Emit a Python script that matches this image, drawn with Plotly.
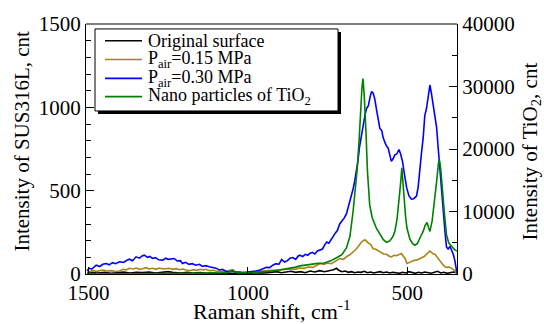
import plotly.graph_objects as go

# ---------------- data ----------------
blue_x = [1505, 1497, 1490, 1476, 1465, 1455, 1445, 1435, 1425, 1415, 1403, 1390, 1380, 1372, 1362,
          1351, 1340, 1332, 1325, 1315, 1308, 1299, 1290, 1280, 1267, 1258, 1250, 1240, 1231, 1222,
          1212, 1205, 1195, 1185, 1175, 1163, 1152, 1143, 1133, 1121, 1112, 1100, 1090, 1080, 1070,
          1059, 1048, 1038, 1028, 1015, 1005, 995, 985, 975, 962, 952, 942, 932, 922, 912, 903, 894,
          885, 876, 868, 859, 850, 842, 837, 828, 820, 812, 806, 798, 790, 782, 774, 766, 759, 753,
          746, 740, 733, 726, 719, 712, 705, 698, 691, 685, 680, 675, 670, 665, 660, 655, 650, 644,
          638, 633, 628, 622, 617, 612, 607, 602, 596, 591, 586, 580, 576, 571, 566, 560, 555, 550,
          545, 539, 533, 526, 521, 515, 509, 502, 495, 487, 480, 471, 466, 461, 456, 450, 445, 440,
          435, 429, 424, 419, 414, 408, 404, 400, 394, 388, 382, 377, 372, 366, 361, 356, 351, 347, 344]
blue_y = [20, 34, 30, 53, 45, 58, 63, 55, 68, 62, 73, 70, 82, 89, 80,
          103, 95, 108, 113, 100, 105, 93, 98, 85, 83, 95, 88, 92, 93, 78,
          80, 63, 70, 58, 62, 53, 58, 45, 50, 43, 38, 35, 24, 28, 18,
          14, 16, 10, 12, 8, 10, 12, 14, 18, 24, 32, 40, 38, 53, 62, 58, 87,
          72, 80, 95, 99, 88, 108, 113, 105, 118, 112, 123, 130, 120, 138, 142, 150, 175, 192,
          185, 205, 221, 245, 262, 300, 318, 335, 360, 400, 440, 468, 510, 557, 610, 676, 760, 834,
          900, 950, 992, 1010, 1060, 1095, 1085, 1051, 980, 930, 873, 860, 820, 794, 770, 755, 710, 676,
          690, 715, 720, 747, 720, 676, 600, 518, 470, 449, 452, 468, 520, 600, 715, 820, 952, 990,
          1060, 1134, 1080, 1010, 972, 880, 780, 676, 520, 360, 260, 162, 150, 165, 142, 120, 83, 30, 4]

gold_x = [1505, 1497, 1485, 1475, 1465, 1455, 1440, 1428, 1415, 1403, 1392, 1382, 1372, 1360, 1350,
          1340, 1330, 1320, 1310, 1299, 1288, 1278, 1265, 1255, 1247, 1235, 1225, 1215, 1204, 1194,
          1182, 1172, 1160, 1150, 1140, 1132, 1120, 1108, 1095, 1082, 1069, 1058, 1048, 1038, 1025,
          1012, 1000, 985, 970, 955, 940, 925, 910, 895, 880, 866, 852, 838, 824, 810, 796, 782, 774,
          762, 750, 738, 726, 712, 700, 690, 680, 670, 660, 652, 644, 638, 633, 628, 622, 615, 607,
          600, 592, 581, 574, 565, 558, 550, 542, 534, 526, 518, 512, 506, 501, 494, 487, 478, 471,
          463, 455, 447, 440, 434, 429, 424, 418, 413, 408, 402, 396, 390, 382, 375, 368, 361, 355,
          350, 347, 344]
gold_y = [10, 14, 20, 16, 22, 24, 18, 20, 15, 18, 28, 24, 34, 30, 36,
          28, 32, 38, 30, 34, 28, 36, 30, 32, 34, 28, 32, 26, 30, 24,
          20, 26, 22, 28, 24, 28, 20, 22, 15, 18, 14, 22, 25, 12, 10,
          8, 10, 14, 16, 20, 18, 24, 22, 28, 26, 30, 28, 36, 34, 42, 40, 52, 63,
          58, 66, 62, 74, 93, 88, 105, 115, 132, 150, 170, 192, 200, 205, 197, 185, 178, 152,
          150, 140, 126, 120, 118, 108, 103, 112, 110, 118, 123, 105, 90, 63, 70, 75, 82, 83,
          90, 100, 105, 118, 128, 138, 130, 120, 118, 103, 92, 75, 60, 43, 40, 42, 34, 28,
          20, 8, 2]

black_x = [1505, 1490, 1470, 1450, 1430, 1410, 1390, 1370, 1350, 1330, 1310, 1290, 1270, 1250, 1230,
           1210, 1190, 1170, 1150, 1130, 1110, 1090, 1070, 1050, 1030, 1010, 990, 970, 950, 930, 910,
           895, 880, 865, 850, 835, 820, 805, 790, 775, 760, 745, 735, 728, 722, 715, 705, 695, 685,
           675, 665, 655, 645, 635, 625, 615, 605, 595, 585, 575, 565, 555, 545, 535, 525, 515, 505,
           495, 485, 475, 465, 455, 445, 435, 425, 415, 405, 395, 385, 375, 365, 355, 348, 344]
black_y = [5, 8, 6, 10, 4, 8, 12, 6, 10, 8, 12, 6, 10, 14, 8,
           6, 10, 5, 8, 4, 6, 3, 5, 2, 4, 3, 5, 8, 6, 10, 14,
           8, 12, 16, 10, 14, 8, 18, 12, 20, 14, 18, 24, 28, 34, 22, 14, 18, 10,
           14, 8, 12, 10, 16, 8, 12, 6, 10, 14, 8, 12, 6, 10, 8, 4, 10, 6,
           14, 8, 4, 10, 6, 12, 8, 5, 10, 16, 6, 10, 4, 8, 12, 10, 2]

green_x = [1505, 1480, 1450, 1420, 1390, 1360, 1330, 1300, 1270, 1240, 1210, 1180, 1150, 1120, 1090,
           1065, 1055, 1048, 1042, 1030, 1000, 970, 940, 910, 880, 850, 837, 820, 800, 780, 760, 740,
           722, 705, 691, 680, 670, 663, 657, 651, 646, 642, 639, 635, 630, 625, 618, 610, 597, 585,
           575, 565, 555, 545, 539, 532, 526, 521, 517, 513, 509, 505, 501, 492, 484, 476, 468, 460,
           450, 444, 438, 433, 429, 422, 414, 407, 402, 399, 395, 389, 384, 377, 370, 361, 352, 344]
green_y = [0, 20, 40, 30, 50, 40, 60, 50, 70, 60, 80, 90, 100, 120, 150,
           200, 400, 600, 300, 180, 200, 280, 400, 560, 800, 1100, 1300, 1450, 1600, 1700, 1750, 2100,
           2590, 3100, 4180, 6000, 10000, 13500, 16870, 21500, 27450, 30000, 31260, 28500, 23220, 16500, 11060, 9000, 7350, 6200,
           5500, 5080, 5300, 6000, 6820, 8800, 11590, 14500, 16980, 14800, 11590, 9000, 7350, 5600, 4900, 4600, 4900, 5800,
           6820, 7800, 8250, 7400, 6820, 8500, 11590, 15200, 17800, 18200, 16800, 13700, 10000, 6300, 5000, 4440, 3900, 3650]

legend_names = ["Original surface", "P<sub>air</sub>=0.15 MPa", "P<sub>air</sub>=0.30 MPa",
                "Nano particles of TiO<sub>2</sub>"]
colors = ["#000000", "#A88418", "#0000FF", "#008000"]

x_ticks = [1500, 1000, 500]
y1_ticks = [0, 500, 1000, 1500]
y2_ticks = [0, 10000, 20000, 30000, 40000]

# ---------------- figure ----------------
FONT = "Liberation Serif"
fig = go.Figure()
series = [(black_x, black_y, "y"), (gold_x, gold_y, "y"), (blue_x, blue_y, "y"), (green_x, green_y, "y2")]
for (xs, ys, ax), name, col in zip(series, legend_names, colors):
    fig.add_trace(go.Scatter(x=xs, y=ys, yaxis=ax, mode="lines", name=name,
                             line=dict(color=col, width=1.6), showlegend=False))

W, H = 544, 324
L, R, T, B = 86, 87, 21, 50
pw, ph = W - L - R, H - T - B

def px(x):
    return (x - L) / pw

def py(y):
    return (H - B - y) / ph

axis_common = dict(showline=True, linecolor="black", linewidth=1, showgrid=False, zeroline=False,
                   tickcolor="black", tickformat="d", ticks="inside",
                   tickfont=dict(family=FONT, size=21, color="black"))

fig.update_layout(
    width=W, height=H,
    margin=dict(l=L, r=R, t=T, b=B),
    paper_bgcolor="white", plot_bgcolor="white",
    font=dict(family=FONT, size=21, color="black"),
    xaxis=dict(range=[1508, 344], tickvals=x_ticks, ticklen=7, **axis_common),
    yaxis=dict(range=[0, 1500], tickvals=y1_ticks, ticklen=8,
               minor=dict(dtick=100, ticks="inside", ticklen=5, tickcolor="black"), **axis_common),
    yaxis2=dict(range=[0, 40000], tickvals=y2_ticks, overlaying="y", side="right", ticklen=8,
                minor=dict(dtick=5000, ticks="inside", ticklen=5, tickcolor="black"), **axis_common),
    showlegend=False,
)

shapes = [
    dict(type="line", xref="paper", yref="paper", x0=0, x1=1, y0=1, y1=1,
         line=dict(color="black", width=1)),
    dict(type="rect", xref="paper", yref="paper", x0=px(98), x1=px(341), y0=py(112), y1=py(29),
         fillcolor="black", line=dict(width=0)),
    dict(type="rect", xref="paper", yref="paper", x0=px(95), x1=px(338), y0=py(109), y1=py(26),
         fillcolor="white", line=dict(color="black", width=1)),
]
annotations = []
rows = [38, 57, 76, 94.5]
for name, col, ry in zip(legend_names, colors, rows):
    shapes.append(dict(type="line", xref="paper", yref="paper", x0=px(105), x1=px(142),
                       y0=py(ry), y1=py(ry), line=dict(color=col, width=1.6)))
    annotations.append(dict(text=name, xref="paper", yref="paper", x=px(146), y=py(ry),
                            xanchor="left", yanchor="middle", showarrow=False,
                            font=dict(family=FONT, size=18, color="black")))

annotations += [
    dict(text="Intensity of SUS316L, cnt", xref="paper", yref="paper", x=px(22), y=py(140),
         textangle=-90, showarrow=False, xanchor="center", yanchor="middle",
         font=dict(family=FONT, size=21, color="black")),
    dict(text="Intensity of TiO<sub>2</sub>, cnt", xref="paper", yref="paper", x=px(531), y=py(150),
         textangle=-90, showarrow=False, xanchor="center", yanchor="middle",
         font=dict(family=FONT, size=21, color="black")),
    dict(text="Raman shift, cm<sup>-1</sup>", xref="paper", yref="paper", x=px(272), y=py(310),
         showarrow=False, xanchor="center", yanchor="middle",
         font=dict(family=FONT, size=22, color="black")),
]
fig.update_layout(shapes=shapes, annotations=annotations)

fig.write_html("out.html")
